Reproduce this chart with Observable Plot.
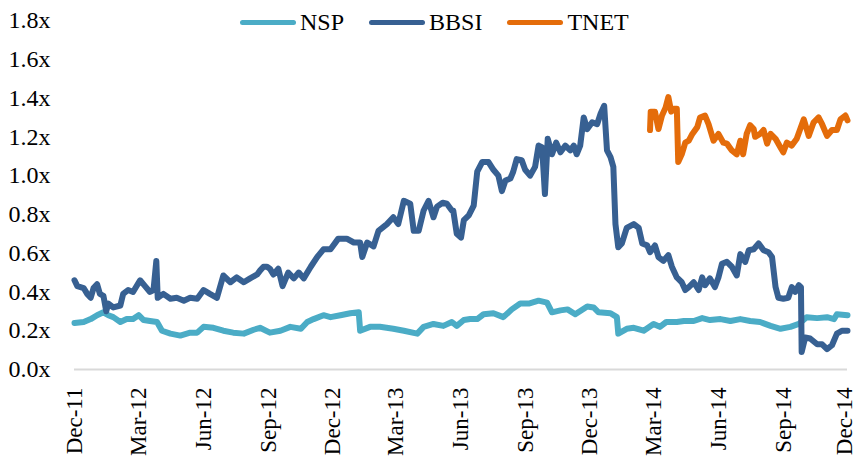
<!DOCTYPE html>
<html><head><meta charset="utf-8">
<script src="https://cdn.jsdelivr.net/npm/d3@7"></script>
<script src="https://cdn.jsdelivr.net/npm/@observablehq/plot@0.6"></script>
<style>
body{margin:0;background:#fff;}
#wrap{position:relative;width:857px;height:462px;font-family:"Liberation Serif",serif;}
#legend{position:absolute;top:7px;left:240px;display:flex;align-items:center;font-size:24px;color:#000;line-height:30px;}
.item{display:flex;align-items:center;margin-right:25px;}
.sw{width:56px;height:5px;border-radius:3px;margin-right:4px;}
</style></head><body><div id="wrap"><div id="legend"></div></div>
<script>
const seriesNames = ["NSP", "BBSI", "TNET"];
const seriesColors = ["#4bacc6", "#376092", "#e46c0a"];
const yTicks = [0, 0.2, 0.4, 0.6, 0.8, 1.0, 1.2, 1.4, 1.6, 1.8];
const xTicks = ["2011-12-01","2012-03-01","2012-06-01","2012-09-01","2012-12-01","2013-03-01","2013-06-01","2013-09-01","2013-12-01","2014-03-01","2014-06-01","2014-09-01","2014-12-01"];

const nsp = [
["2011-12-01",0.24],["2011-12-14",0.245],["2011-12-24",0.26],["2012-01-02",0.28],["2012-01-11",0.295],["2012-01-18",0.28],["2012-01-25",0.27],["2012-02-04",0.245],["2012-02-13",0.26],["2012-02-22",0.26],["2012-03-01",0.28],["2012-03-08",0.255],["2012-03-17",0.25],["2012-03-27",0.245],["2012-04-03",0.20],["2012-04-15",0.185],["2012-04-29",0.175],["2012-05-13",0.19],["2012-05-23",0.19],["2012-06-01",0.22],["2012-06-15",0.215],["2012-06-29",0.20],["2012-07-13",0.19],["2012-07-28",0.185],["2012-08-11",0.205],["2012-08-20",0.215],["2012-09-03",0.19],["2012-09-18",0.20],["2012-10-02",0.22],["2012-10-17",0.21],["2012-10-26",0.245],["2012-11-04",0.26],["2012-11-18",0.28],["2012-11-28",0.27],["2012-12-12",0.28],["2012-12-26",0.29],["2013-01-07",0.295],["2013-01-09",0.20],["2013-01-23",0.22],["2013-02-06",0.22],["2013-02-25",0.21],["2013-03-12",0.20],["2013-03-31",0.185],["2013-04-09",0.22],["2013-04-23",0.235],["2013-05-07",0.225],["2013-05-19",0.245],["2013-05-26",0.225],["2013-06-05",0.255],["2013-06-14",0.26],["2013-06-24",0.26],["2013-07-03",0.285],["2013-07-17",0.29],["2013-07-31",0.27],["2013-08-12",0.31],["2013-08-24",0.34],["2013-09-05",0.34],["2013-09-19",0.355],["2013-10-01",0.345],["2013-10-08",0.295],["2013-10-20",0.305],["2013-10-30",0.31],["2013-11-10",0.285],["2013-11-27",0.325],["2013-12-06",0.32],["2013-12-13",0.295],["2013-12-30",0.29],["2014-01-08",0.27],["2014-01-10",0.185],["2014-01-22",0.21],["2014-02-01",0.215],["2014-02-15",0.20],["2014-03-01",0.235],["2014-03-10",0.22],["2014-03-19",0.245],["2014-04-03",0.245],["2014-04-13",0.25],["2014-04-27",0.25],["2014-05-09",0.265],["2014-05-20",0.255],["2014-06-04",0.26],["2014-06-18",0.25],["2014-07-02",0.26],["2014-07-16",0.25],["2014-07-30",0.245],["2014-08-14",0.225],["2014-08-28",0.21],["2014-09-11",0.22],["2014-09-23",0.235],["2014-10-04",0.27],["2014-10-19",0.265],["2014-11-02",0.27],["2014-11-12",0.26],["2014-11-16",0.285],["2014-12-01",0.28]
];

const bbsi = [
["2011-12-01",0.46],["2011-12-05",0.43],["2011-12-14",0.42],["2011-12-19",0.39],["2011-12-24",0.37],["2011-12-28",0.42],["2012-01-02",0.44],["2012-01-06",0.39],["2012-01-11",0.38],["2012-01-15",0.30],["2012-01-18",0.34],["2012-01-25",0.32],["2012-02-04",0.33],["2012-02-08",0.39],["2012-02-15",0.41],["2012-02-22",0.40],["2012-03-03",0.46],["2012-03-10",0.43],["2012-03-17",0.40],["2012-03-22",0.41],["2012-03-26",0.56],["2012-03-28",0.37],["2012-04-05",0.39],["2012-04-15",0.365],["2012-04-24",0.37],["2012-05-04",0.355],["2012-05-13",0.37],["2012-05-23",0.365],["2012-06-01",0.41],["2012-06-10",0.39],["2012-06-20",0.37],["2012-06-29",0.485],["2012-07-09",0.45],["2012-07-18",0.475],["2012-07-28",0.45],["2012-08-06",0.47],["2012-08-16",0.49],["2012-08-20",0.51],["2012-08-25",0.53],["2012-08-30",0.53],["2012-09-03",0.52],["2012-09-08",0.49],["2012-09-15",0.52],["2012-09-21",0.43],["2012-09-29",0.50],["2012-10-07",0.47],["2012-10-14",0.50],["2012-10-21",0.47],["2012-10-31",0.53],["2012-11-09",0.58],["2012-11-18",0.62],["2012-11-28",0.62],["2012-12-09",0.675],["2012-12-21",0.675],["2012-12-31",0.655],["2013-01-09",0.655],["2013-01-12",0.58],["2013-01-19",0.655],["2013-01-28",0.635],["2013-02-04",0.715],["2013-02-16",0.75],["2013-02-25",0.785],["2013-03-04",0.75],["2013-03-12",0.87],["2013-03-21",0.855],["2013-03-26",0.715],["2013-04-02",0.715],["2013-04-09",0.82],["2013-04-16",0.87],["2013-04-23",0.785],["2013-04-28",0.84],["2013-05-06",0.86],["2013-05-12",0.855],["2013-05-19",0.82],["2013-05-21",0.82],["2013-05-26",0.70],["2013-06-01",0.68],["2013-06-05",0.77],["2013-06-12",0.795],["2013-06-19",0.845],["2013-06-24",1.02],["2013-07-01",1.07],["2013-07-10",1.07],["2013-07-17",1.03],["2013-07-24",1.0],["2013-07-29",0.92],["2013-08-03",0.975],["2013-08-10",0.985],["2013-08-14",1.02],["2013-08-19",1.085],["2013-08-26",1.08],["2013-08-31",1.03],["2013-09-07",1.0],["2013-09-14",1.045],["2013-09-19",1.155],["2013-09-24",1.145],["2013-09-28",0.905],["2013-10-02",1.19],["2013-10-08",1.11],["2013-10-14",1.17],["2013-10-20",1.12],["2013-10-27",1.155],["2013-11-03",1.13],["2013-11-08",1.155],["2013-11-12",1.11],["2013-11-17",1.155],["2013-11-22",1.30],["2013-11-27",1.24],["2013-12-04",1.275],["2013-12-11",1.265],["2013-12-16",1.32],["2013-12-21",1.36],["2013-12-25",1.13],["2013-12-30",1.095],["2014-01-03",1.045],["2014-01-06",0.75],["2014-01-10",0.63],["2014-01-15",0.65],["2014-01-22",0.73],["2014-02-01",0.75],["2014-02-08",0.73],["2014-02-13",0.65],["2014-02-20",0.64],["2014-02-24",0.605],["2014-03-03",0.64],["2014-03-08",0.58],["2014-03-15",0.56],["2014-03-22",0.59],["2014-03-27",0.53],["2014-04-03",0.475],["2014-04-10",0.45],["2014-04-15",0.41],["2014-04-20",0.425],["2014-04-27",0.45],["2014-05-04",0.41],["2014-05-09",0.475],["2014-05-13",0.435],["2014-05-20",0.47],["2014-05-27",0.425],["2014-06-01",0.475],["2014-06-06",0.545],["2014-06-13",0.555],["2014-06-20",0.53],["2014-06-27",0.485],["2014-07-02",0.595],["2014-07-09",0.555],["2014-07-14",0.615],["2014-07-21",0.62],["2014-07-28",0.65],["2014-08-04",0.615],["2014-08-11",0.605],["2014-08-16",0.58],["2014-08-21",0.425],["2014-08-25",0.37],["2014-09-01",0.365],["2014-09-08",0.37],["2014-09-13",0.425],["2014-09-18",0.40],["2014-09-23",0.435],["2014-09-26",0.425],["2014-09-27",0.09],["2014-10-02",0.165],["2014-10-09",0.16],["2014-10-19",0.13],["2014-10-26",0.13],["2014-11-02",0.105],["2014-11-09",0.125],["2014-11-16",0.185],["2014-11-23",0.20],["2014-12-01",0.20]
];

const tnet = [
["2014-02-24",1.235],["2014-02-25",1.33],["2014-03-03",1.33],["2014-03-08",1.24],["2014-03-13",1.31],["2014-03-18",1.35],["2014-03-22",1.405],["2014-03-26",1.33],["2014-03-30",1.345],["2014-04-03",1.345],["2014-04-05",1.07],["2014-04-10",1.11],["2014-04-15",1.17],["2014-04-20",1.18],["2014-04-25",1.215],["2014-05-02",1.25],["2014-05-06",1.30],["2014-05-13",1.31],["2014-05-18",1.265],["2014-05-25",1.18],["2014-06-01",1.215],["2014-06-08",1.17],["2014-06-13",1.165],["2014-06-20",1.13],["2014-06-27",1.11],["2014-07-02",1.18],["2014-07-06",1.11],["2014-07-11",1.215],["2014-07-16",1.26],["2014-07-21",1.24],["2014-07-23",1.20],["2014-07-30",1.215],["2014-08-04",1.235],["2014-08-09",1.165],["2014-08-14",1.215],["2014-08-21",1.19],["2014-08-28",1.145],["2014-09-01",1.12],["2014-09-06",1.17],["2014-09-13",1.155],["2014-09-20",1.19],["2014-09-25",1.24],["2014-09-30",1.29],["2014-10-07",1.205],["2014-10-14",1.275],["2014-10-21",1.30],["2014-10-26",1.265],["2014-11-02",1.205],["2014-11-09",1.235],["2014-11-16",1.235],["2014-11-21",1.29],["2014-11-28",1.31],["2014-12-01",1.285]
];

const seriesData = {NSP: nsp, BBSI: bbsi, TNET: tnet};
const rows = [];
for (const name of seriesNames) {
  for (const [d, v] of seriesData[name]) rows.push({date: new Date(d), value: v, series: name});
}

const chart = Plot.plot({
  width: 857, height: 462,
  marginLeft: 74, marginRight: 10, marginTop: 20, marginBottom: 93,
  style: {fontFamily: "'Liberation Serif', serif", fontSize: "24px", color: "#000", background: "transparent"},
  x: {type: "utc", domain: [new Date(xTicks[0]), new Date(xTicks[xTicks.length - 1])],
      ticks: xTicks.map(d => new Date(d)), tickFormat: d3.utcFormat("%b-%y"),
      tickRotate: -90, tickSize: 0, tickPadding: 18, label: null},
  y: {domain: [0, 1.8], ticks: yTicks, tickFormat: d => d.toFixed(1) + "x", tickSize: 0, tickPadding: 24, label: null},
  color: {domain: seriesNames, range: seriesColors},
  marks: [
    Plot.ruleY([0], {stroke: "#d9d9d9", strokeWidth: 2}),
    Plot.lineY(rows, {x: "date", y: "value", z: "series", stroke: "series", strokeWidth: 6, strokeLinejoin: "round", strokeLinecap: "round"})
  ]
});
chart.querySelectorAll('g[aria-label^="x-axis"]').forEach(g => g.setAttribute("font-size", "23px"));
const xLabels = chart.querySelectorAll('g[aria-label^="x-axis"] text');
xLabels.forEach(t => t.setAttribute("font-size", "23px"));
if (xLabels.length) {
  const last = xLabels[xLabels.length - 1];
  const holder = last.closest("g[transform]") && last.getAttribute("transform") == null ? last.parentNode : last;
  const tr = holder.getAttribute("transform") || "";
  holder.setAttribute("transform", "translate(-3,0) " + tr);
}
const wrap = document.getElementById("wrap");
wrap.appendChild(chart);
chart.style.display = "block";

const legend = document.getElementById("legend");
seriesNames.forEach((name, i) => {
  const item = document.createElement("div");
  item.className = "item";
  const sw = document.createElement("span");
  sw.className = "sw";
  sw.style.background = seriesColors[i];
  const label = document.createElement("span");
  label.textContent = name;
  item.appendChild(sw); item.appendChild(label);
  legend.appendChild(item);
});
</script></body></html>
